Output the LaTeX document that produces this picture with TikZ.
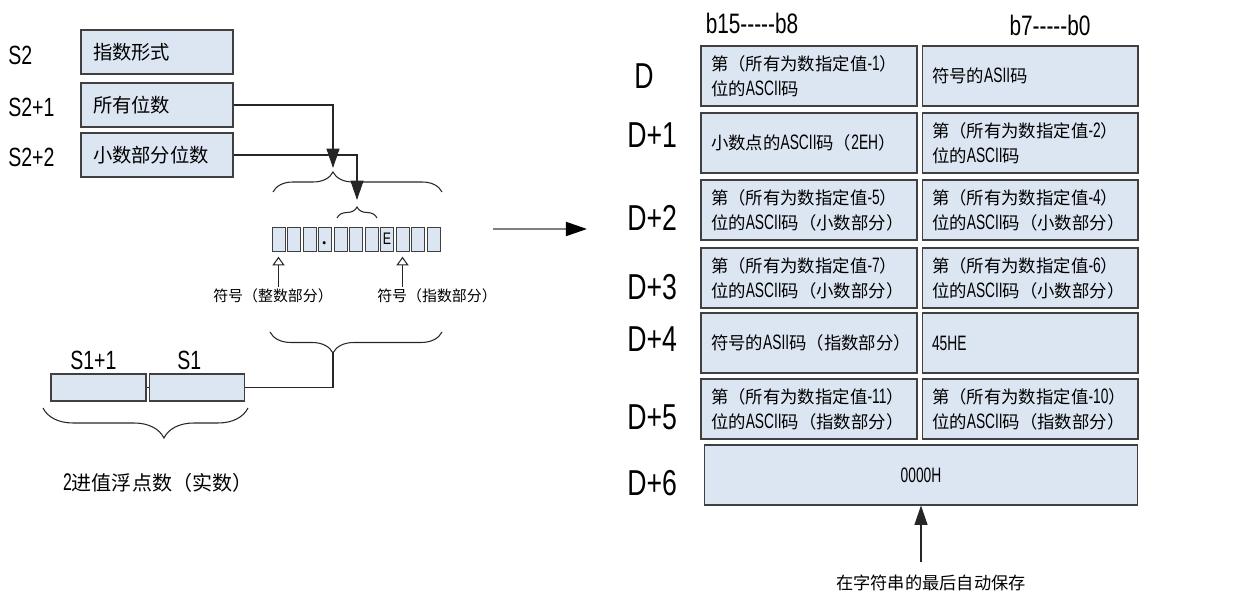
\documentclass[tikz,border=0pt]{standalone}
\usepackage{fontspec}
\setmainfont{Noto Sans CJK SC}
\newfontfamily\narrowfont{Liberation Sans}[FakeStretch=0.74]
\newfontfamily\boxlatin{Liberation Sans}[FakeStretch=0.66, Scale=1.2]
\newcommand{\en}[1]{{\boxlatin #1}}
\usetikzlibrary{arrows.meta,decorations.pathreplacing}
\definecolor{cellfill}{HTML}{DCE6F2}
\definecolor{cellline}{HTML}{404040}
\definecolor{flowgray}{HTML}{7F7F7F}

\tikzset{
  regbox/.style={draw=cellline, fill=cellfill, line width=0.6pt, inner xsep=0.24cm, text width=2.56cm, minimum height=0.88cm, align=left, font=\fontsize{11}{12}\selectfont},
  wordbox/.style={draw=cellline, fill=cellfill, line width=0.6pt, inner xsep=0.2cm, text width=3.92cm, minimum height=1.2cm, align=left, font=\fontsize{9.9}{14.2}\selectfont},
  halfword/.style={draw=cellline, fill=cellfill, line width=0.6pt, minimum width=1.9cm, minimum height=0.54cm, inner sep=0pt},
  digit/.style={draw=cellline, fill=cellfill, line width=0.5pt, minimum width=0.26cm, minimum height=0.48cm, inner sep=0pt},
  regname/.style={font=\narrowfont\fontsize{15}{15}\selectfont, anchor=west, inner sep=0pt},
  rowname/.style={font=\narrowfont\fontsize{20.5}{20}\selectfont, anchor=west, inner sep=0pt},
  bitrange/.style={font=\narrowfont\fontsize{16}{16}\selectfont, inner sep=0pt},
  tag/.style={font=\fontsize{8.5}{10}\selectfont, inner sep=1pt},
  notetext/.style={font=\fontsize{9.8}{12}\selectfont, inner sep=1pt},
  link/.style={draw=black!85, line width=0.6pt},
  flow/.style={link, -{Triangle[length=11pt,width=7.4pt]}},
  sign/.style={link, -{Triangle[open,length=5pt,width=7pt]}, shorten >=3pt},
  convert/.style={draw=flowgray, line width=1pt, -{Triangle[length=12pt,width=8pt,color=black]}},
  bracket/.style={decorate, draw=black!85, line width=0.6pt},
}

\begin{document}
\begin{tikzpicture}[x=0.02cm, y=-0.02cm]
  \useasboundingbox (0,0) rectangle (1249,597);

  % source registers S2
  \node[regname] (lbls2) at (8,55) {S2};
  \node[regname] (lbls2a) at (8,107) {S2+1};
  \node[regname] (lbls2b) at (8,157) {S2+2};
  \node[regbox] (s2) at (157,52) {指数形式};
  \node[regbox] (s2a) at (157,105) {所有位数};
  \node[regbox] (s2b) at (157,155) {小数部分位数};

  % character string
  \foreach \i in {1,...,11}
    \node[digit] (c\i) at ({278.5+(\i-1)*15.5},239) {};
  \node[font=\fontsize{13}{13}\selectfont, inner sep=0pt] (dotmark) at ([yshift=-2.5pt]c4.center) {.};
  \node[font=\narrowfont\fontsize{9.5}{9.5}\selectfont, inner sep=0pt] (emark) at (c8) {E};

  \draw[bracket, decoration={brace, amplitude=0.4cm, aspect=0.355}] (273,192) -- (442,192);
  \draw[bracket, decoration={brace, amplitude=0.22cm}] (337,218) -- (377,218);
  \coordinate (bigtip) at (333,168);
  \coordinate (smalltip) at (357,200);
  \draw[flow] (s2a.east) -| (bigtip);
  \draw[flow] (s2b.east) -| (smalltip);

  \node[tag] (lblint) at (273,296) {符号（整数部分）};
  \node[tag] (lblexp) at (437,296) {符号（指数部分）};
  \draw[sign] (lblint.north -| c1.south) -- (c1.south);
  \draw[sign] (lblexp.north -| c9.south) -- (c9.south);

  % source S1 (real number)
  \draw[bracket, decoration={brace, mirror, amplitude=0.42cm, aspect=0.366}] (270,332) -- (442,332);
  \coordinate (lowtip) at (333,353);
  \node[regname] (lbls1a) at (70,360) {S1+1};
  \node[regname] (lbls1) at (177,360) {S1};
  \node[halfword] (s1hi) at (98.5,387.5) {};
  \node[halfword] (s1) at (197,387.5) {};
  \draw[link] (s1hi.east) -- (s1.west);
  \draw[link] (lowtip) |- (s1.east);
  \draw[bracket, decoration={brace, mirror, amplitude=0.6cm, aspect=0.59}] (43,408) -- (248,408);
  \node[notetext, font=\fontsize{11.4}{12}\selectfont, anchor=west] (floatlbl) at (61,483) {\en{2}进值浮点数（实数）};

  \coordinate (convfrom) at (493,229);
  \coordinate (convto) at (587,229);
  \draw[convert] (convfrom) -- (convto);

  % destination D
  \node[bitrange] (hibits) at (752,23) {b15-{}-{}-{}-{}-b8};
  \node[bitrange] (lobits) at (1050,25) {b7-{}-{}-{}-{}-b0};
  \foreach \lbl/\x/\y [count=\i] in {D/634/76, D+1/627/135, D+2/627/218, D+3/627/287, D+4/627/339, D+5/627/417, D+6/627/483}
    \node[rowname] (row\i) at (\x,\y) {\lbl};

  \node[wordbox] (d0l) at (809,76) {第（所有为数指定值\en{-1}）\\位的\en{ASCII}码};
  \node[wordbox] (d0r) at (1030,76) {符号的\en{ASII}码};
  \node[wordbox] (d1l) at (809,143) {小数点的\en{ASCII}码（\en{2EH}）};
  \node[wordbox] (d1r) at (1030,143) {第（所有为数指定值\en{-2}）\\位的\en{ASCII}码};
  \node[wordbox] (d2l) at (809,210) {第（所有为数指定值\en{-5}）\\位的\en{ASCII}码（小数部分）};
  \node[wordbox] (d2r) at (1030,210) {第（所有为数指定值\en{-4}）\\位的\en{ASCII}码（小数部分）};
  \node[wordbox] (d3l) at (809,278) {第（所有为数指定值\en{-7}）\\位的\en{ASCII}码（小数部分）};
  \node[wordbox] (d3r) at (1030,278) {第（所有为数指定值\en{-6}）\\位的\en{ASCII}码（小数部分）};
  \node[wordbox] (d4l) at (809,343) {符号的\en{ASII}码（指数部分）};
  \node[wordbox] (d4r) at (1030,343) {\en{45HE}};
  \node[wordbox] (d5l) at (809,409) {第（所有为数指定值\en{-11}）\\位的\en{ASCII}码（指数部分）};
  \node[wordbox] (d5r) at (1030,409) {第（所有为数指定值\en{-10}）\\位的\en{ASCII}码（指数部分）};
  \node[wordbox, text width=8.28cm, align=center] (d6) at (921,475) {\en{0000H}};

  \node[notetext] (keep) at (931,583) {在字符串的最后自动保存};
  \coordinate (keeptop) at (921,562);
  \draw[flow] (keeptop) -- (d6.south);
\end{tikzpicture}
\end{document}
